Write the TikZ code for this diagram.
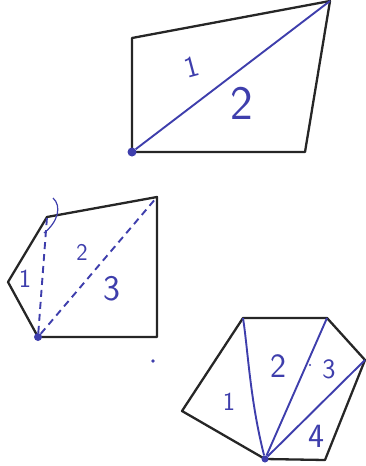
\documentclass[tikz,border=0pt]{standalone}
\usetikzlibrary{positioning}
\definecolor{pen}{RGB}{62,62,172}
\begin{document}
\begin{tikzpicture}[x=1pt,y=-1pt,
  edge/.style={black!85,line width=2.3pt,line join=round},
  cut/.style={pen,line width=1.9pt},
  lbl/.style={pen,inner sep=0pt,font=\fontsize{30}{32}\selectfont\sffamily},
  vtx/.style={circle,fill=pen,inner sep=0pt,minimum size=8pt}]
  \useasboundingbox (0,0) rectangle (365,466);
  % quadrilateral, one diagonal
  \coordinate (qa) at (132,38);
  \coordinate (qb) at (330,1);
  \coordinate (qc) at (305,152);
  \draw[edge] (132,152) -- (qa) -- (qb) -- (qc) -- cycle;
  \node[vtx,minimum size=9pt] (q0) at (132,152) {};
  \draw[cut] (q0) -- (qb);
  \node[lbl,rotate=15] (q1) at (192,67) {1};
  \node[lbl,font=\fontsize{48}{50}\selectfont\sffamily] (q2) at (242,103) {2};
  % pentagon, dashed diagonals
  \coordinate (pa) at (8,282);
  \coordinate (pb) at (47,217);
  \coordinate (pc) at (157,197);
  \coordinate (pd) at (157,337);
  \draw[edge] (38,337) -- (pa) -- (pb) -- (pc) -- (pd) -- cycle;
  \node[vtx] (p0) at (38,337) {};
  \draw[cut,dash pattern=on 7pt off 5pt] (p0) -- (pb);
  \draw[cut,dash pattern=on 7pt off 5pt] (p0) -- (pc);
  \draw[cut,line width=1.2pt] (53,198) .. controls (62,206) and (58,222) .. (44,233);
  \node[lbl,font=\fontsize{26}{28}\selectfont\sffamily] (p1) at (25,279) {1};
  \node[lbl,font=\fontsize{24}{26}\selectfont\sffamily] (p2) at (82,252) {2};
  \node[lbl,font=\fontsize{36}{38}\selectfont\sffamily] (p3) at (112,289) {3};
  \fill[pen] (153,361) circle (1.8pt);
  % hexagon, three diagonals
  \coordinate (ha) at (182,411);
  \coordinate (hb) at (243,318);
  \coordinate (hc) at (327,318);
  \coordinate (hd) at (365,360);
  \coordinate (he) at (325,460);
  \draw[edge] (265,459) -- (ha) -- (hb) -- (hc) -- (hd) -- (he) -- cycle;
  \node[vtx,minimum size=7pt] (h0) at (265,459) {};
  \draw[cut] (h0) .. controls (250,400) and (248,350) .. (hb);
  \draw[cut] (h0) -- (hc);
  \draw[cut] (h0) -- (hd);
  \node[lbl,font=\fontsize{26}{28}\selectfont\sffamily] (h1) at (229,402) {1};
  \node[lbl,font=\fontsize{34}{36}\selectfont\sffamily] (h2) at (278,366) {2};
  \node[lbl,font=\fontsize{28}{30}\selectfont\sffamily] (h3) at (329,369) {3};
  \node[lbl,font=\fontsize{34}{36}\selectfont\sffamily] (h4) at (316,436) {4};
  \fill[pen] (310,365) circle (1.2pt);
\end{tikzpicture}
\end{document}
